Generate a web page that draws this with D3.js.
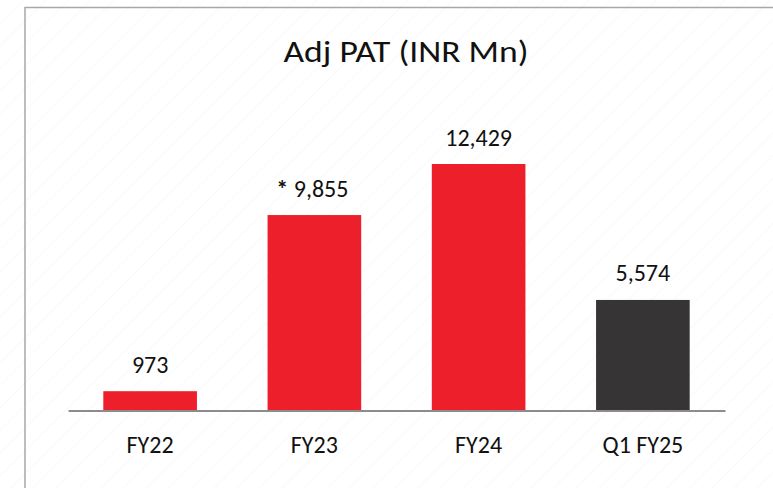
<!DOCTYPE html>
<html>
<head>
<meta charset="utf-8">
<script src="https://cdn.jsdelivr.net/npm/d3@7"></script>
<style>
  html, body { margin: 0; padding: 0; background: #ffffff; }
  svg { display: block; }
  text { font-family: Carlito, Calibri, Lato, "Open Sans", sans-serif; fill: #111111; }
</style>
</head>
<body>
<svg id="chart" width="773" height="488"></svg>
<script>
const categories = ["FY22", "FY23", "FY24", "Q1 FY25"];
const values = [973, 9855, 12429, 5574];
const valuePrefix = ["", "*", "", ""];
const valueLabels = ["973", "9,855", "12,429", "5,574"];
const barColors = ["#ED1F2A", "#ED1F2A", "#ED1F2A", "#363435"];
const title = "Adj PAT (INR Mn)";

const W = 773, H = 488;
const FONT = "Carlito, Calibri, Lato, 'Open Sans', sans-serif";
const svg = d3.select("#chart");

// faint background pattern
const defs = svg.append("defs");
const pat = defs.append("pattern")
  .attr("id", "bgpat").attr("patternUnits", "userSpaceOnUse")
  .attr("width", 16).attr("height", 16)
  .attr("patternTransform", "rotate(45)");
pat.append("line").attr("x1", 0).attr("y1", 0).attr("x2", 0).attr("y2", 16)
  .attr("stroke", "#f7f7f7").attr("stroke-width", 1.5);
svg.append("rect").attr("width", W).attr("height", H).attr("fill", "#ffffff");
svg.append("rect").attr("width", W).attr("height", H).attr("fill", "url(#bgpat)");

// chart frame
svg.append("path")
  .attr("d", `M25,${H + 2} L25,7.5 L${W + 2},7.5`)
  .attr("fill", "none").attr("stroke", "#a8a8a8").attr("stroke-width", 1.5);

const x = d3.scaleBand().domain(categories).range([68, 725]).paddingInner(0.43).paddingOuter(0.215);
const y = d3.scaleLinear().domain([0, 12429]).range([410.5, 164]);

svg.append("text")
  .attr("x", 406).attr("y", 62)
  .attr("text-anchor", "middle")
  .attr("font-size", 31)
  .attr("textLength", 245)
  .attr("lengthAdjust", "spacingAndGlyphs")
  .text(title);

svg.selectAll("rect.bar").data(values).enter().append("rect")
  .attr("class", "bar")
  .attr("x", (d, i) => x(categories[i]))
  .attr("width", x.bandwidth())
  .attr("y", d => y(d))
  .attr("height", d => y(0) - y(d))
  .attr("fill", (d, i) => barColors[i]);

// axis baseline and category labels
const axis = d3.axisBottom(x).tickSize(0).tickPadding(25.5);
const ag = svg.append("g").attr("transform", `translate(0,${y(0)})`).call(axis);
ag.attr("font-size", 24).attr("font-family", FONT);
ag.select(".domain").attr("stroke", "#8c8c8c").attr("stroke-width", 2);
ag.selectAll(".tick text")
  .attr("font-size", 24)
  .attr("fill", "#111111");

const vt = svg.selectAll("text.val").data(values).enter().append("text")
  .attr("class", "val")
  .attr("x", (d, i) => x(categories[i]) + x.bandwidth() / 2 + (valuePrefix[i] ? -2 : 0))
  .attr("y", d => y(d) - 18.5)
  .attr("text-anchor", "middle")
  .attr("font-size", 24);
vt.each(function(d, i) {
  const t = d3.select(this);
  if (valuePrefix[i]) {
    t.append("tspan").attr("font-weight", "bold").text(valuePrefix[i] + " ");
  }
  t.append("tspan").text(valueLabels[i]);
});
</script>
</body>
</html>
